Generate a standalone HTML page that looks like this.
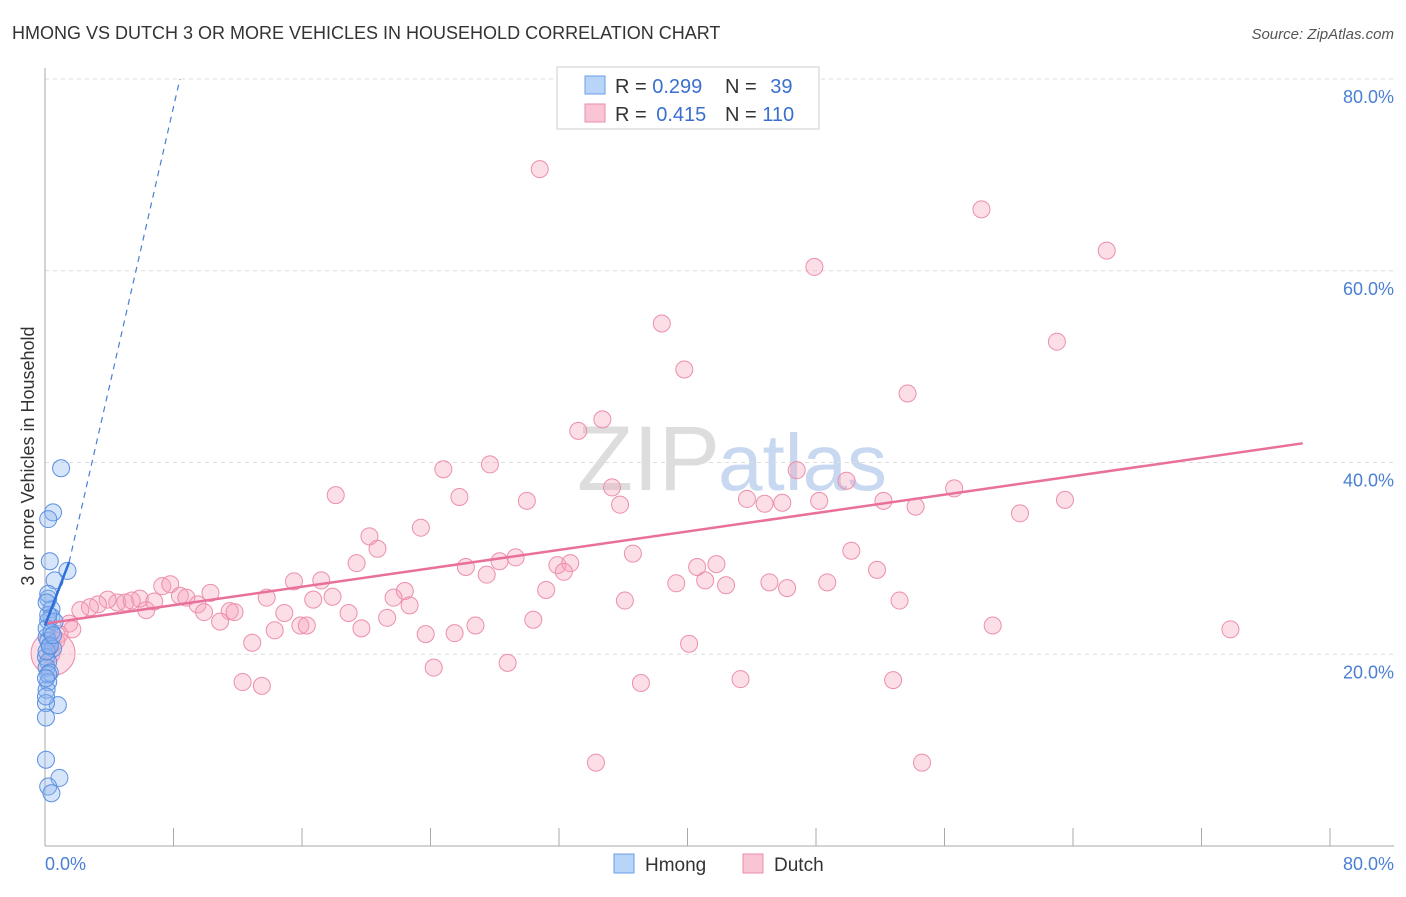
<!DOCTYPE html>
<html><head><meta charset="utf-8"><style>
body{margin:0;background:#fff;font-family:"Liberation Sans",sans-serif}
svg text{font-family:"Liberation Sans",sans-serif}
</style></head><body>
<svg width="1406" height="892" id="c">
<text x="12" y="39" font-size="18" fill="#333">HMONG VS DUTCH 3 OR MORE VEHICLES IN HOUSEHOLD CORRELATION CHART</text>
<text x="1394" y="39" font-size="15" fill="#555" text-anchor="end" font-style="italic">Source: ZipAtlas.com</text>
<text x="720" y="490" font-size="92" fill="#ddd" text-anchor="end" font-family="Liberation Serif">ZIP</text>
<text x="718" y="490" font-size="80" fill="#c8d8f0">atlas</text>
<g id="grid"></g>
<line x1="45" y1="68" x2="45" y2="846" stroke="#aaa"/>
<line x1="45" y1="846" x2="1394" y2="846" stroke="#aaa"/>
<g id="ticks"></g>
<g id="pts"></g>
<g id="lines"></g>
<text x="34" y="456" font-size="18" fill="#333" text-anchor="middle" transform="rotate(-90 34 456)">3 or more Vehicles in Household</text>
<text x="45" y="870" font-size="18" fill="#4a7fd4">0.0%</text>
<text x="1394" y="870" font-size="18" fill="#4a7fd4" text-anchor="end">80.0%</text>
<g>
<rect x="557" y="67" width="262" height="62" fill="#fff" stroke="#ccc"/>
<rect x="585" y="76" width="20" height="18" fill="#b8d4f8" stroke="#6a9ee8"/>
<rect x="585" y="104" width="20" height="18" fill="#f9c5d5" stroke="#ea8eaa"/>
<text x="615" y="93" font-size="20" fill="#333">R = <tspan fill="#3a6fd0">0.299</tspan></text>
<text x="725" y="93" font-size="20" fill="#333">N = <tspan fill="#3a6fd0" dx="8">39</tspan></text>
<text x="615" y="121" font-size="20" fill="#333">R = <tspan fill="#3a6fd0" dx="4">0.415</tspan></text>
<text x="725" y="121" font-size="20" fill="#333">N = <tspan fill="#3a6fd0">110</tspan></text>
</g>
<g>
<rect x="614" y="854" width="20" height="19" fill="#b8d4f8" stroke="#6a9ee8"/>
<text x="645" y="871" font-size="19" fill="#333">Hmong</text>
<rect x="743" y="854" width="20" height="19" fill="#f9c5d5" stroke="#ea8eaa"/>
<text x="774" y="871" font-size="19" fill="#333">Dutch</text>
</g>
</svg>
<script>
const yTicks=[20,40,60,80];
const yTickLabels=["20.0%","40.0%","60.0%","80.0%"];
const xTicks=[0,10,20,30,40,50,60,70,80,90,100];
const dutchX=[30.8,58.3,66.1,47.9,38.4,63,39.8,53.7,34.7,33.2,24.8,27.7,46.8,49.9,18.1,25.8,30,35.3,35.8,43.7,44.8,45.9,48.2,52.2,54.2,56.6,63.5,60.7,23.4,20.2,20.7,36.6,50.2,29.3,26.2,28.3,31.9,32.7,32.3,27.5,19.4,41.8,40.6,51.8,15.5,17.2,39.3,41.1,42.4,45.1,46.2,48.7,31.2,22.4,21.7,22.7,17.9,16.7,13.8,10.3,7.3,7.8,8.4,8.8,9.5,9.9,11.5,11.8,10.9,6.3,5.9,5.0,4.5,3.9,3.3,2.8,2.2,6.8,5.4,14.9,18.9,21.3,15.9,16.3,19.7,14.3,23.7,25.5,26.8,30.4,36.1,53.2,59,73.8,12.9,40.1,1.5,1.7,0.9,0.4,0.7,24.2,28.8,12.3,13.5,37.1,43.3,52.8,34.3,54.6,0.5];
const dutchY=[70.6,66.4,62.1,60.4,54.5,52.6,49.7,47.2,44.5,43.3,39.3,39.8,39.2,38.1,36.6,36.4,36,37.4,35.6,36.2,35.7,35.8,36,36,35.4,37.3,36.1,34.7,33.2,32.3,31,30.5,30.8,30.1,29.1,29.7,29.3,29.5,28.6,28.3,29.5,29.4,29.1,28.8,27.6,27.7,27.4,27.7,27.2,27.5,26.9,27.5,26.7,26.6,25.9,25.1,26,25.7,25.9,26.4,27.1,27.3,26.1,25.9,25.2,24.4,24.5,24.4,23.4,24.6,25.8,25.4,25.4,25.7,25.2,24.9,24.6,25.5,25.6,24.3,24.3,23.8,23,23,22.7,22.5,22.1,22.2,23,23.6,25.6,25.6,23,22.6,21.2,21.1,23.2,22.6,22.1,20,21.4,18.6,19.1,17.1,16.7,17,17.4,17.3,8.7,8.7,20.1];
const hmongX=[1,0.5,0.2,0.3,1.4,0.6,0.2,0.4,0.4,0.2,0.6,0.1,0.2,0.3,0.5,0.06,0.2,0.1,0.3,0.2,0.1,0.8,0.06,0.06,0.06,0.9,0.2,0.4,0.2,0.1,0.4,0.1,0.2,0.06,0.3,0.5,0.2,0.1,0.06];
const hmongY=[39.4,34.8,34.1,29.7,28.7,27.7,25.8,24.7,23.9,23.5,23.4,21.8,21.4,20.8,20.6,19.7,19.2,18.6,18.1,17.1,16.3,14.7,14.9,13.4,9,7.1,6.2,5.5,26.3,22.7,22.3,20.3,17.9,15.6,20.9,22,24.1,25.4,17.5];
const NS="http://www.w3.org/2000/svg";
const X=v=>45+v/80*1285, Y=v=>846-v/80*767;
function mk(tag,at,parent){const e=document.createElementNS(NS,tag);for(const k in at)e.setAttribute(k,at[k]);document.getElementById(parent).appendChild(e);return e;}
yTicks.forEach((t,i)=>{
 const l=mk('line',{x1:45,x2:1394,y1:Y(t),y2:Y(t),stroke:'#ddd','stroke-dasharray':'4,4'},'grid');
 
 
 const tx=mk('text',{x:1394,y:Y(t)+24,'font-size':18,fill:'#4a7fd4','text-anchor':'end'},'grid');
 tx.textContent=yTickLabels[i];
 
 
});
xTicks.forEach(t=>{
 const l=mk('line',{x1:X(t*0.8),x2:X(t*0.8),y1:828,y2:846,stroke:'#aaa'},'ticks');
 
 
});
dutchX.forEach((v,i)=>{
 const big=i===dutchX.length-1;
 const c=mk('circle',{cx:X(v),cy:Y(dutchY[i]),r:big?22:8.5,fill:'rgba(245,160,185,0.35)',stroke:'#ec8fab','stroke-width':1},'pts');
 
 
});
hmongX.forEach((v,i)=>{
 const c=mk('circle',{cx:X(v),cy:Y(hmongY[i]),r:8.5,fill:'rgba(140,180,240,0.35)',stroke:'#5a90e0','stroke-width':1},'pts');
 
 
});
let l=mk('line',{x1:X(0),y1:Y(23.2),x2:X(78.3),y2:Y(42.0),stroke:'#e8709a','stroke-width':2.5},'lines');


l=mk('line',{x1:X(0),y1:Y(23),x2:X(1.5),y2:Y(29.6),stroke:'#2f6fd8','stroke-width':2.5},'lines');


l=mk('line',{x1:X(1.5),y1:Y(29.6),x2:X(8.4),y2:Y(80),stroke:'#4a7fd4','stroke-width':1.2,'stroke-dasharray':'6,5'},'lines');


</script>
</body></html>
